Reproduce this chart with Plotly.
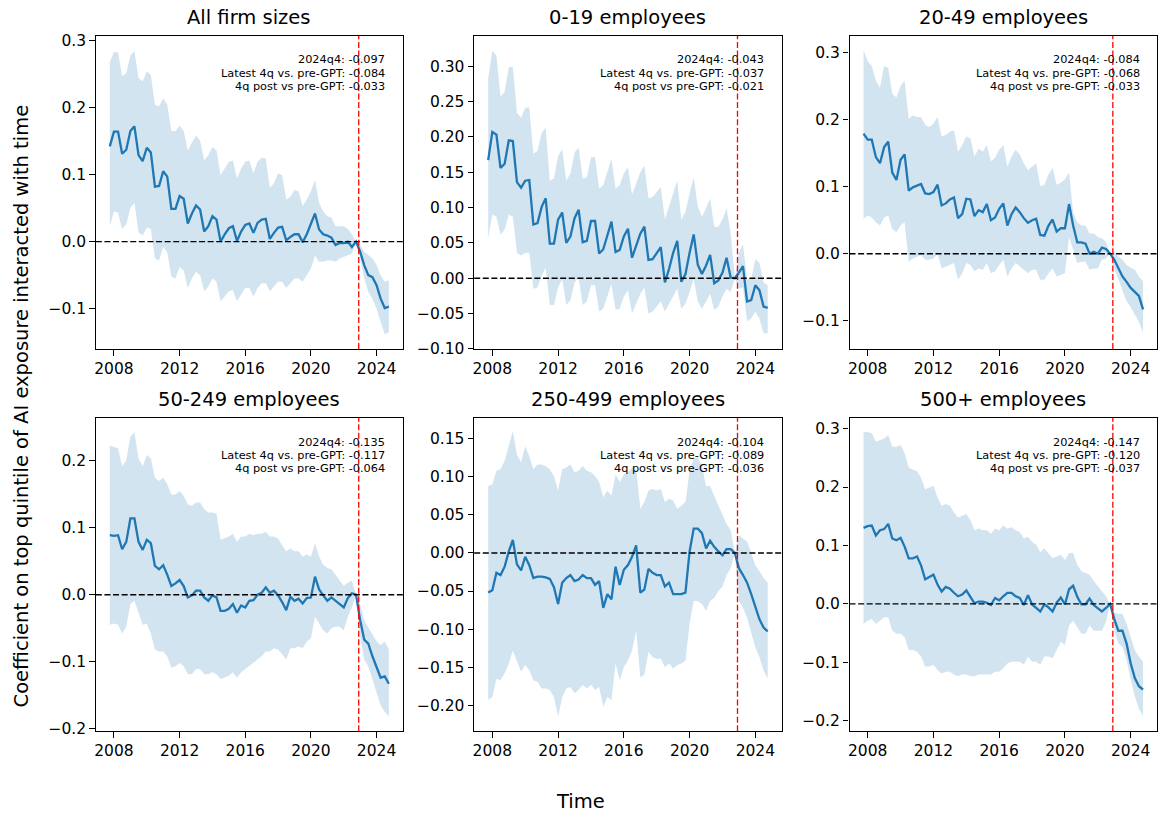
import pandas as pd
import plotly.graph_objects as go

# ---------------- data ----------------
quarters = pd.period_range("2007Q4", "2024Q4", freq="Q")
dates = [p.start_time for p in quarters]
gpt_release = "2022-11-30"

titles = ["All firm sizes", "0-19 employees", "20-49 employees",
          "50-249 employees", "250-499 employees", "500+ employees"]

stat_2024q4 = [-0.097, -0.043, -0.084, -0.135, -0.104, -0.147]
stat_latest4q = [-0.084, -0.037, -0.068, -0.117, -0.089, -0.120]
stat_post4q = [-0.033, -0.021, -0.033, -0.064, -0.036, -0.037]

all_coef = [0.142, 0.164, 0.164, 0.131, 0.137, 0.165, 0.172, 0.129, 0.120, 0.140,
            0.133, 0.082, 0.083, 0.105, 0.097, 0.049, 0.049, 0.068, 0.064, 0.027,
            0.042, 0.054, 0.048, 0.015, 0.023, 0.038, 0.033, 0.000, 0.011, 0.020,
            0.023, 0.001, 0.015, 0.025, 0.027, 0.013, 0.028, 0.033, 0.034, 0.004,
            0.013, 0.021, 0.022, 0.002, 0.007, 0.011, 0.011, -0.001, 0.011, 0.028,
            0.042, 0.018, 0.011, 0.009, 0.006, -0.005, -0.002, -0.002, 0.000, -0.008,
            0.000, -0.015, -0.035, -0.050, -0.053, -0.065, -0.085, -0.099, -0.097]
all_hi = [0.268, 0.283, 0.282, 0.247, 0.251, 0.278, 0.284, 0.244, 0.239, 0.254,
          0.248, 0.204, 0.202, 0.214, 0.204, 0.165, 0.165, 0.173, 0.165, 0.136,
          0.148, 0.158, 0.151, 0.121, 0.129, 0.141, 0.136, 0.099, 0.109, 0.119,
          0.121, 0.094, 0.109, 0.119, 0.121, 0.102, 0.119, 0.125, 0.124, 0.080,
          0.087, 0.102, 0.099, 0.063, 0.067, 0.077, 0.075, 0.053, 0.063, 0.075,
          0.092, 0.058, 0.045, 0.038, 0.036, 0.023, 0.023, 0.023, 0.019, 0.011,
          0.000, -0.005, -0.015, -0.020, -0.025, -0.035, -0.050, -0.060, -0.058]
all_lo = [0.023, 0.045, 0.043, 0.019, 0.026, 0.050, 0.058, 0.014, 0.009, 0.021,
          0.019, -0.025, -0.028, -0.008, -0.016, -0.052, -0.055, -0.038, -0.043, -0.069,
          -0.055, -0.045, -0.050, -0.074, -0.067, -0.055, -0.060, -0.089, -0.082, -0.074,
          -0.072, -0.089, -0.079, -0.069, -0.069, -0.082, -0.069, -0.062, -0.062, -0.074,
          -0.067, -0.060, -0.060, -0.069, -0.062, -0.055, -0.055, -0.060, -0.050, -0.040,
          -0.021, -0.030, -0.030, -0.028, -0.028, -0.030, -0.025, -0.023, -0.021, -0.018,
          0.000, -0.025, -0.055, -0.075, -0.085, -0.100, -0.120, -0.138, -0.135]

s0_19_coef = [0.167, 0.207, 0.203, 0.156, 0.162, 0.195, 0.194, 0.136, 0.128, 0.138,
              0.139, 0.076, 0.078, 0.101, 0.113, 0.049, 0.049, 0.083, 0.093, 0.050,
              0.059, 0.085, 0.097, 0.051, 0.053, 0.081, 0.081, 0.035, 0.041, 0.062,
              0.080, 0.037, 0.040, 0.059, 0.070, 0.029, 0.046, 0.063, 0.073, 0.026,
              0.027, 0.036, 0.044, -0.006, 0.013, 0.036, 0.053, -0.005, 0.006, 0.036,
              0.062, 0.019, 0.006, 0.018, 0.033, -0.007, -0.003, 0.008, 0.029, 0.001,
              0.000, 0.008, 0.017, -0.033, -0.031, -0.010, -0.017, -0.040, -0.042]
s0_19_hi = [0.283, 0.322, 0.315, 0.257, 0.264, 0.299, 0.299, 0.234, 0.227, 0.241,
            0.242, 0.176, 0.180, 0.206, 0.213, 0.138, 0.141, 0.173, 0.183, 0.138,
            0.148, 0.178, 0.185, 0.141, 0.143, 0.171, 0.171, 0.127, 0.132, 0.152,
            0.169, 0.127, 0.132, 0.148, 0.157, 0.118, 0.134, 0.150, 0.159, 0.113,
            0.115, 0.122, 0.129, 0.083, 0.101, 0.122, 0.138, 0.083, 0.094, 0.120,
            0.143, 0.101, 0.087, 0.099, 0.113, 0.073, 0.073, 0.083, 0.099, 0.064,
            0.000, 0.036, 0.048, -0.001, -0.001, 0.027, 0.022, -0.006, -0.010]
s0_19_lo = [0.057, 0.090, 0.087, 0.062, 0.069, 0.090, 0.087, 0.036, 0.032, 0.036,
            0.036, -0.015, -0.013, 0.004, 0.015, -0.038, -0.038, -0.013, -0.001, -0.038,
            -0.031, -0.006, 0.001, -0.038, -0.033, -0.010, -0.010, -0.047, -0.043, -0.024,
            -0.008, -0.045, -0.043, -0.026, -0.017, -0.050, -0.036, -0.022, -0.013, -0.050,
            -0.047, -0.040, -0.033, -0.047, -0.036, -0.026, -0.015, -0.043, -0.036, -0.020,
            -0.001, -0.033, -0.043, -0.033, -0.022, -0.045, -0.040, -0.026, -0.015, -0.020,
            0.000, -0.015, -0.013, -0.061, -0.057, -0.047, -0.057, -0.078, -0.078]

s20_49_coef = [0.179, 0.170, 0.170, 0.144, 0.135, 0.159, 0.167, 0.121, 0.110, 0.140,
               0.148, 0.094, 0.099, 0.102, 0.104, 0.090, 0.089, 0.092, 0.103, 0.072,
               0.075, 0.081, 0.084, 0.053, 0.059, 0.082, 0.081, 0.056, 0.065, 0.062,
               0.074, 0.050, 0.054, 0.067, 0.075, 0.042, 0.059, 0.069, 0.062, 0.053,
               0.046, 0.050, 0.052, 0.028, 0.027, 0.042, 0.051, 0.033, 0.038, 0.038,
               0.074, 0.042, 0.017, 0.017, 0.015, 0.000, 0.003, 0.000, 0.009, 0.007,
               0.000, -0.009, -0.022, -0.034, -0.042, -0.051, -0.057, -0.063, -0.083]
s20_49_hi = [0.304, 0.287, 0.280, 0.258, 0.248, 0.280, 0.277, 0.238, 0.233, 0.250,
             0.258, 0.201, 0.206, 0.204, 0.204, 0.192, 0.189, 0.194, 0.204, 0.175,
             0.177, 0.182, 0.184, 0.152, 0.162, 0.175, 0.172, 0.145, 0.157, 0.152,
             0.162, 0.138, 0.143, 0.155, 0.162, 0.130, 0.145, 0.155, 0.148, 0.135,
             0.125, 0.130, 0.135, 0.101, 0.103, 0.118, 0.128, 0.103, 0.106, 0.111,
             0.121, 0.062, 0.047, 0.042, 0.042, 0.030, 0.030, 0.025, 0.023, 0.018,
             0.000, 0.003, -0.004, -0.009, -0.017, -0.021, -0.024, -0.034, -0.041]
s20_49_lo = [0.052, 0.057, 0.054, 0.047, 0.042, 0.054, 0.057, 0.037, 0.032, 0.042,
             0.047, -0.012, -0.007, -0.004, -0.002, -0.009, -0.009, -0.007, 0.000, -0.022,
             -0.019, -0.017, -0.014, -0.039, -0.029, -0.014, -0.017, -0.026, -0.022, -0.024,
             -0.014, -0.029, -0.026, -0.017, -0.009, -0.034, -0.022, -0.014, -0.019, -0.024,
             -0.029, -0.024, -0.024, -0.039, -0.039, -0.029, -0.022, -0.034, -0.031, -0.029,
             0.025, 0.005, -0.014, -0.012, -0.012, -0.024, -0.022, -0.022, -0.009, -0.007,
             0.000, -0.022, -0.039, -0.056, -0.071, -0.080, -0.090, -0.102, -0.117]

s50_249_coef = [0.089, 0.088, 0.089, 0.068, 0.079, 0.114, 0.114, 0.079, 0.067, 0.082,
                0.077, 0.043, 0.038, 0.044, 0.030, 0.013, 0.017, 0.022, 0.013, -0.004,
                -0.001, 0.006, 0.006, -0.004, -0.009, -0.001, -0.004, -0.024, -0.024, -0.021,
                -0.014, -0.027, -0.016, -0.019, -0.009, -0.008, 0.000, 0.003, 0.011, 0.003,
                0.006, -0.001, -0.011, -0.023, -0.003, -0.009, -0.006, -0.013, -0.005, -0.004,
                0.027, 0.008, -0.001, -0.009, -0.004, -0.009, -0.014, -0.019, -0.005, 0.002,
                0.000, -0.038, -0.067, -0.073, -0.092, -0.109, -0.124, -0.122, -0.133]
s50_249_hi = [0.223, 0.221, 0.219, 0.192, 0.201, 0.236, 0.243, 0.204, 0.192, 0.209,
              0.204, 0.175, 0.170, 0.175, 0.165, 0.150, 0.150, 0.155, 0.148, 0.135,
              0.133, 0.138, 0.138, 0.128, 0.123, 0.123, 0.121, 0.082, 0.084, 0.087,
              0.091, 0.079, 0.087, 0.087, 0.091, 0.089, 0.091, 0.091, 0.094, 0.087,
              0.087, 0.084, 0.074, 0.065, 0.069, 0.065, 0.065, 0.057, 0.060, 0.057,
              0.077, 0.057, 0.045, 0.040, 0.038, 0.030, 0.021, 0.013, 0.018, 0.021,
              0.000, -0.014, -0.038, -0.048, -0.058, -0.070, -0.075, -0.070, -0.082]
s50_249_lo = [-0.045, -0.043, -0.045, -0.058, -0.048, -0.014, -0.009, -0.028, -0.045, -0.043,
              -0.058, -0.082, -0.085, -0.085, -0.092, -0.109, -0.107, -0.102, -0.107, -0.119,
              -0.119, -0.111, -0.111, -0.119, -0.119, -0.116, -0.119, -0.126, -0.124, -0.121,
              -0.116, -0.124, -0.116, -0.111, -0.107, -0.102, -0.097, -0.092, -0.085, -0.085,
              -0.080, -0.082, -0.089, -0.097, -0.080, -0.080, -0.077, -0.080, -0.070, -0.065,
              -0.033, -0.043, -0.053, -0.058, -0.050, -0.048, -0.048, -0.053, -0.033, -0.019,
              0.000, -0.063, -0.097, -0.107, -0.126, -0.146, -0.165, -0.175, -0.182]

s250_499_coef = [-0.052, -0.049, -0.026, -0.029, -0.018, 0.002, 0.017, -0.015, -0.023, -0.005,
                 -0.016, -0.033, -0.031, -0.031, -0.032, -0.034, -0.045, -0.067, -0.039, -0.033,
                 -0.029, -0.037, -0.035, -0.029, -0.033, -0.033, -0.042, -0.037, -0.072, -0.054,
                 -0.061, -0.018, -0.042, -0.022, -0.016, -0.005, 0.010, -0.052, -0.048, -0.021,
                 -0.026, -0.029, -0.029, -0.044, -0.039, -0.054, -0.054, -0.054, -0.052, 0.002,
                 0.032, 0.032, 0.026, 0.006, 0.016, 0.008, 0.002, -0.003, 0.005, 0.005,
                 0.000, -0.020, -0.029, -0.039, -0.054, -0.072, -0.087, -0.098, -0.103]
s250_499_hi = [0.088, 0.090, 0.108, 0.110, 0.121, 0.140, 0.160, 0.129, 0.119, 0.140,
               0.127, 0.110, 0.116, 0.116, 0.114, 0.110, 0.101, 0.082, 0.110, 0.112,
               0.116, 0.106, 0.108, 0.114, 0.108, 0.106, 0.101, 0.093, 0.073, 0.082,
               0.075, 0.103, 0.093, 0.103, 0.106, 0.112, 0.110, 0.058, 0.067, 0.082,
               0.084, 0.082, 0.084, 0.067, 0.071, 0.069, 0.058, 0.062, 0.067, 0.108,
               0.125, 0.125, 0.114, 0.088, 0.088, 0.075, 0.062, 0.049, 0.038, 0.030,
               0.000, 0.023, 0.019, 0.015, 0.000, -0.016, -0.024, -0.033, -0.039]
s250_499_lo = [-0.193, -0.189, -0.165, -0.167, -0.158, -0.145, -0.128, -0.143, -0.156, -0.147,
               -0.154, -0.167, -0.169, -0.178, -0.178, -0.180, -0.189, -0.215, -0.189, -0.178,
               -0.176, -0.184, -0.180, -0.173, -0.178, -0.173, -0.180, -0.176, -0.202, -0.189,
               -0.193, -0.145, -0.167, -0.150, -0.141, -0.128, -0.102, -0.163, -0.160, -0.130,
               -0.137, -0.139, -0.139, -0.150, -0.145, -0.152, -0.147, -0.145, -0.141, -0.093,
               -0.063, -0.063, -0.067, -0.076, -0.063, -0.059, -0.050, -0.044, -0.029, -0.020,
               0.000, -0.063, -0.072, -0.085, -0.106, -0.124, -0.137, -0.154, -0.165]

s500_coef = [0.130, 0.133, 0.134, 0.117, 0.126, 0.128, 0.137, 0.112, 0.109, 0.113,
             0.098, 0.078, 0.078, 0.081, 0.066, 0.042, 0.046, 0.050, 0.033, 0.021,
             0.029, 0.026, 0.019, 0.013, 0.016, 0.023, 0.012, 0.001, 0.004, 0.004,
             0.002, -0.002, 0.010, 0.006, 0.013, 0.019, 0.019, 0.013, 0.010, -0.002,
             0.015, -0.001, -0.007, -0.013, -0.001, -0.006, -0.013, 0.002, 0.011, -0.001,
             0.025, 0.031, 0.012, -0.001, -0.001, 0.009, -0.002, -0.007, -0.013, -0.007,
             0.000, -0.026, -0.046, -0.046, -0.068, -0.102, -0.127, -0.141, -0.147]
s500_hi = [0.294, 0.294, 0.292, 0.278, 0.280, 0.283, 0.289, 0.269, 0.269, 0.272,
           0.258, 0.233, 0.230, 0.227, 0.216, 0.196, 0.199, 0.202, 0.182, 0.168,
           0.171, 0.168, 0.157, 0.148, 0.151, 0.154, 0.143, 0.126, 0.129, 0.126,
           0.126, 0.120, 0.129, 0.126, 0.134, 0.129, 0.131, 0.126, 0.123, 0.112,
           0.115, 0.106, 0.101, 0.089, 0.095, 0.087, 0.078, 0.081, 0.084, 0.075,
           0.087, 0.087, 0.067, 0.056, 0.053, 0.050, 0.039, 0.030, 0.022, 0.013,
           0.000, -0.015, -0.017, -0.017, -0.034, -0.057, -0.079, -0.090, -0.099]
s500_lo = [-0.034, -0.029, -0.026, -0.034, -0.029, -0.023, -0.023, -0.046, -0.051, -0.051,
           -0.057, -0.079, -0.079, -0.082, -0.090, -0.107, -0.107, -0.104, -0.113, -0.119,
           -0.116, -0.116, -0.121, -0.124, -0.121, -0.121, -0.124, -0.124, -0.121, -0.121,
           -0.121, -0.121, -0.116, -0.116, -0.110, -0.102, -0.099, -0.099, -0.099, -0.104,
           -0.090, -0.099, -0.099, -0.104, -0.090, -0.090, -0.093, -0.079, -0.065, -0.071,
           -0.037, -0.029, -0.040, -0.051, -0.051, -0.037, -0.046, -0.046, -0.046, -0.031,
           0.000, -0.046, -0.068, -0.074, -0.096, -0.130, -0.158, -0.180, -0.192]

coefs = [all_coef, s0_19_coef, s20_49_coef, s50_249_coef, s250_499_coef, s500_coef]
his = [all_hi, s0_19_hi, s20_49_hi, s50_249_hi, s250_499_hi, s500_hi]
los = [all_lo, s0_19_lo, s20_49_lo, s50_249_lo, s250_499_lo, s500_lo]

y_ranges = [[-0.160, 0.307], [-0.100, 0.343], [-0.142, 0.325],
            [-0.204, 0.264], [-0.234, 0.177], [-0.218, 0.318]]
y_dticks = [0.1, 0.05, 0.1, 0.1, 0.05, 0.1]
y_formats = [".1f", ".2f", ".1f", ".1f", ".2f", ".1f"]

# ---------------- layout geometry (pixels) ----------------
W, H = 1158, 816
col_px = [(94, 401.5), (473, 781), (849, 1157)]
row_px = [(32.3, 350.5), (420.8, 739)]
x_range = ["2006-11-24", "2025-08-07"]

FONT = "DejaVu Sans"
C0 = "#1f77b4"

fig = go.Figure()
layout = dict(
    width=W, height=H, margin=dict(l=0, r=0, t=0, b=0),
    paper_bgcolor="white", plot_bgcolor="white", showlegend=False,
    font=dict(family=FONT, color="black"),
)
shapes = []
annotations = []

for k in range(6):
    n = k + 1
    sfx = "" if n == 1 else str(n)
    r, c = divmod(k, 3)
    xa, ya = "x" + sfx, "y" + sfx

    fig.add_trace(go.Scatter(x=dates, y=los[k], mode="lines", line=dict(width=0),
                             xaxis=xa, yaxis=ya, hoverinfo="skip"))
    fig.add_trace(go.Scatter(x=dates, y=his[k], mode="lines", line=dict(width=0),
                             fill="tonexty", fillcolor="rgba(31,119,180,0.2)",
                             xaxis=xa, yaxis=ya, hoverinfo="skip"))
    fig.add_trace(go.Scatter(x=dates, y=coefs[k], mode="lines",
                             line=dict(color=C0, width=2.3),
                             xaxis=xa, yaxis=ya))

    x0, x1 = col_px[c]
    t0, t1 = row_px[r]
    axcommon = dict(showline=True, mirror=True, linecolor="black", linewidth=1.25,
                    ticks="outside", ticklen=5.5, tickwidth=1.25, tickcolor="black",
                    showgrid=False, zeroline=False,
                    tickfont=dict(family=FONT, size=15.5, color="black"))
    layout["xaxis" + sfx] = dict(axcommon, domain=[x0 / W, x1 / W], anchor=ya,
                                 type="date", range=x_range, tickmode="linear",
                                 tick0="2008-01-01", dtick="M48", tickformat="%Y")
    layout["yaxis" + sfx] = dict(axcommon, domain=[1 - t1 / H, 1 - t0 / H], anchor=xa,
                                 range=y_ranges[k], tickmode="linear", tick0=0,
                                 dtick=y_dticks[k], tickformat=y_formats[k])

    # zero line and GPT release line
    shapes.append(dict(type="line", xref=xa + " domain", yref=ya, x0=0, x1=1, y0=0, y1=0,
                       line=dict(color="black", width=1.4, dash="6px,2.6px")))
    shapes.append(dict(type="line", xref=xa, yref=ya + " domain", x0=gpt_release,
                       x1=gpt_release, y0=0, y1=1,
                       line=dict(color="red", width=1.3, dash="6px,2.6px")))

    annotations.append(dict(text=titles[k], xref=xa + " domain", yref=ya + " domain",
                            x=0.5, y=1, xanchor="center", yanchor="bottom", yshift=5,
                            showarrow=False, font=dict(family=FONT, size=19.5, color="black")))
    lines = [f"2024q4: {stat_2024q4[k]:.3f}",
             f"Latest 4q vs. pre-GPT: {stat_latest4q[k]:.3f}",
             f"4q post vs pre-GPT: {stat_post4q[k]:.3f}"]
    for j, txt in enumerate(lines):
        annotations.append(dict(text=txt, xref=xa + " domain", yref=ya + " domain",
                                x=0.95, y=0.95, xanchor="right", yanchor="top",
                                yshift=-13.3 * j, showarrow=False,
                                font=dict(family=FONT, size=11.3, color="black")))

annotations.append(dict(text="Coefficient on top quintile of AI exposure interacted with time",
                        xref="paper", yref="paper", x=20 / W, y=0.5, textangle=-90,
                        xanchor="center", yanchor="middle", showarrow=False,
                        font=dict(family=FONT, size=19.5, color="black")))
annotations.append(dict(text="Time", xref="paper", yref="paper", x=0.5, y=1 - 802 / H,
                        xanchor="center", yanchor="middle", yshift=-8, showarrow=False,
                        font=dict(family=FONT, size=19.5, color="black")))

layout["shapes"] = shapes
layout["annotations"] = annotations
fig.update_layout(**layout)

fig.write_html("out.html", config={"displayModeBar": False},
               post_script="document.body.style.margin='0px';document.body.style.overflow='hidden';")
